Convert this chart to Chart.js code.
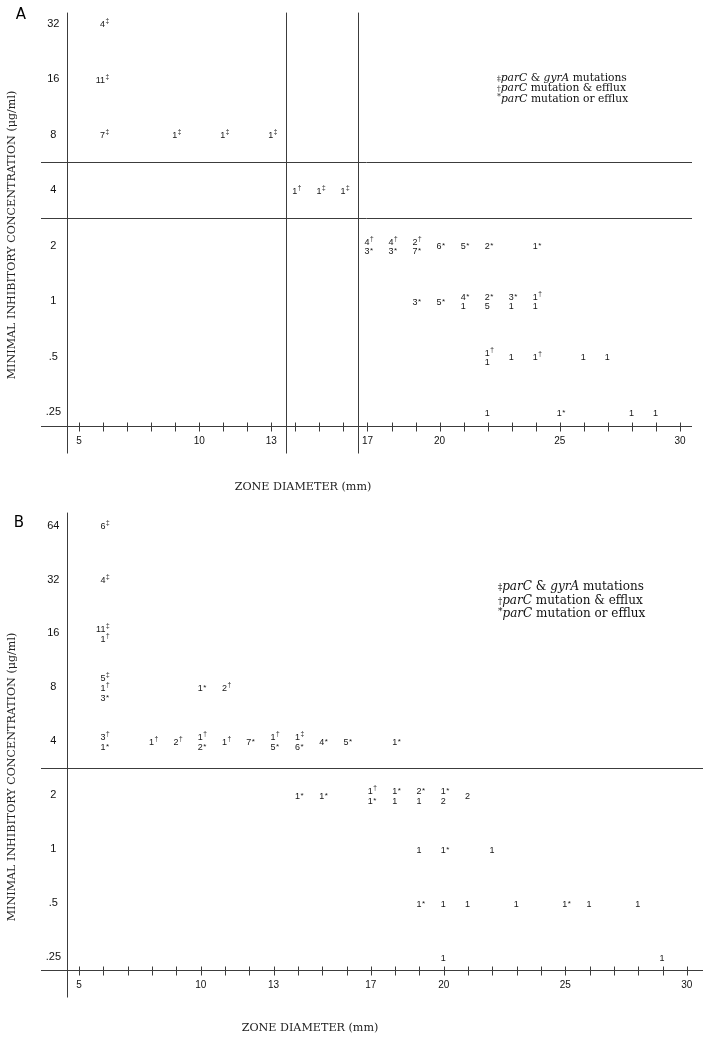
<!DOCTYPE html>
<html>
<head>
<meta charset="utf-8">
<script src="https://cdn.jsdelivr.net/npm/chart.js@4.4.1/dist/chart.umd.min.js"></script>
<style>
  body { margin: 0; background: #fff; }
  .panel { position: absolute; left: 0; }
</style>
</head>
<body>
<canvas id="chartA" class="panel" width="710" height="500" style="top:0"></canvas>
<canvas id="chartB" class="panel" width="710" height="541" style="top:500px"></canvas>
<script>
// zone diameter axis (mm)
const zoneMarks = [5, 6, 7, 8, 9, 10, 11, 12, 13, 14, 15, 16, 17, 18, 19, 20, 21, 22, 23, 24, 25, 26, 27, 28, 29, 30];
const zoneTicks = [5, 10, 13, 17, 20, 25, 30];
// MIC axis (ug/ml), drawn on a log2 scale
const micTicks = [0.25, 0.5, 1, 2, 4, 8, 16, 32, 64];
const micText = ['.25', '.5', '1', '2', '4', '8', '16', '32', '64'];

// panel A: isolate counts at each zone diameter / MIC
const aZone = [6, 6, 6, 9, 11, 13, 14, 15, 16, 17, 18, 19, 20, 21, 22, 24, 19, 20, 21, 22, 23, 24, 22, 23, 24, 26, 27, 22, 25, 28, 29];
const aMic = [32, 16, 8, 8, 8, 8, 4, 4, 4, 2, 2, 2, 2, 2, 2, 2, 1, 1, 1, 1, 1, 1, .5, .5, .5, .5, .5, .25, .25, .25, .25];
const aCount = ['4‡', '11‡', '7‡', '1‡', '1‡', '1‡', '1†', '1‡', '1‡', '4†|3*', '4†|3*', '2†|7*', '6*', '5*', '2*', '1*',
  '3*', '5*', '4*|1', '2*|5', '3*|1', '1†|1', '1†|1', '1', '1†', '1', '1', '1', '1*', '1', '1'];
const aRowCuts = [2.5, 1.5];   // log2(MIC) breakpoints
const aColCuts = [13.6, 16.6]; // zone breakpoints (mm)

// panel B
const bZone = [6, 6, 6, 6, 10, 11, 6, 8, 9, 10, 11, 12, 13, 14, 15, 16, 18, 14, 15, 17, 18, 19, 20, 21, 19, 20, 22, 19, 20, 21, 23, 25, 26, 28, 20, 29];
const bMic = [64, 32, 16, 8, 8, 8, 4, 4, 4, 4, 4, 4, 4, 4, 4, 4, 4, 2, 2, 2, 2, 2, 2, 2, 1, 1, 1, .5, .5, .5, .5, .5, .5, .5, .25, .25];
const bCount = ['6‡', '4‡', '11‡|1†', '5‡|1†|3*', '1*', '2†', '3†|1*', '1†', '2†', '1†|2*', '1†', '7*', '1†|5*', '1‡|6*', '4*', '5*', '1*',
  '1*', '1*', '1†|1*', '1*|1', '2*|1', '1*|2', '2', '1', '1*', '1', '1*', '1', '1', '1', '1*', '1', '1', '1', '1'];
const bRowCuts = [1.5];
const bColCuts = [];

const yTitle = 'MINIMAL INHIBITORY CONCENTRATION (μg/ml)';
const xTitle = 'ZONE DIAMETER (mm)';
const legendLines = [
  [['‡', 'sym'], ['parC', 'it'], [' & ', ''], ['gyrA', 'it'], [' mutations', '']],
  [['†', 'sym'], ['parC', 'it'], [' mutation & efflux', '']],
  [['*', 'star'], ['parC', 'it'], [' mutation or efflux', '']]
];

const SERIF = '"DejaVu Serif", "Liberation Serif", serif';
const SANS = '"Liberation Sans", Arial, sans-serif';

function fitSize(ctx, text, style, family, target) {
  ctx.font = style + ' 100px ' + family;
  return 100 * target / ctx.measureText(text).width;
}

function drawCount(ctx, x, y, text, gap) {
  const lines = text.split('|');
  lines.forEach((ln, i) => {
    const cy = y + (i - (lines.length - 1) / 2) * gap + 1;
    const m = ln.match(/^(\d+)(.*)$/);
    ctx.textBaseline = 'middle';
    ctx.font = '9px ' + SANS;
    ctx.textAlign = 'right';
    ctx.fillText(m[1], x + 2, cy);
    if (m[2]) {
      const star = m[2] === '*';
      ctx.font = (star ? 8 : 6.5) + 'px ' + SANS;
      ctx.textAlign = 'left';
      ctx.fillText(m[2], x + 2.5, cy - (star ? 0.5 : 3));
    }
  });
}

function drawLegend(ctx, x, y, gap, size) {
  ctx.textAlign = 'left';
  ctx.textBaseline = 'middle';
  legendLines.forEach((segs, i) => {
    let cx = x;
    const cy = y + i * gap;
    segs.forEach(([t, kind]) => {
      let dy = 0;
      if (kind === 'sym') { ctx.font = (size * 0.7) + 'px ' + SERIF; dy = 1; }
      else if (kind === 'star') { ctx.font = (size * 0.75) + 'px ' + SERIF; dy = -2; }
      else if (kind === 'it') ctx.font = 'italic ' + size + 'px ' + SERIF;
      else ctx.font = size + 'px ' + SERIF;
      ctx.fillText(t, cx, cy + dy);
      cx += ctx.measureText(t).width;
    });
  });
}

const panelPlugin = {
  id: 'panel',
  afterDraw(chart, args, o) {
    const ctx = chart.ctx;
    const xs = chart.scales.x, ys = chart.scales.y;
    const area = chart.chartArea;
    const base = Math.round(area.bottom) + 0.5;
    const left = Math.round(area.left) + 0.5;
    const right = area.right + o.rightExt;
    ctx.save();
    ctx.strokeStyle = '#3c3c3c';
    ctx.lineWidth = 1;
    const line = (x1, y1, x2, y2) => { ctx.beginPath(); ctx.moveTo(x1, y1); ctx.lineTo(x2, y2); ctx.stroke(); };

    line(o.leftExt, base, right, base);
    line(left, area.top, left, base + o.downExt);
    xs.ticks.forEach(t => {
      const px = Math.round(xs.getPixelForValue(t.value)) + 0.5;
      line(px, base - 4, px, base + 5);
    });
    o.rowCuts.forEach(v => {
      const py = Math.round(ys.getPixelForValue(v)) + 0.5;
      line(o.leftExt, py, right, py);
    });
    o.colCuts.forEach(v => {
      const px = Math.round(xs.getPixelForValue(v)) + 0.5;
      line(px, area.top, px, base + o.downExt);
    });

    // counts at each point
    ctx.fillStyle = '#151515';
    const pts = chart.getDatasetMeta(0).data;
    pts.forEach((p, i) => drawCount(ctx, p.x, p.y, o.counts[i], o.gap));

    // panel letter
    ctx.fillStyle = '#000';
    ctx.font = '15px "DejaVu Sans", sans-serif';
    ctx.textAlign = 'center';
    ctx.textBaseline = 'middle';
    ctx.fillText(o.letter, o.letterPos[0], o.letterPos[1]);

    // axis titles
    ctx.fillStyle = '#222';
    let s = fitSize(ctx, xTitle, '', SERIF, 137);
    ctx.font = s + 'px ' + SERIF;
    ctx.fillText(xTitle, o.xTitlePos[0], o.xTitlePos[1]);
    s = fitSize(ctx, yTitle, '', SERIF, 289);
    ctx.font = s + 'px ' + SERIF;
    ctx.save();
    ctx.translate(o.yTitlePos[0], o.yTitlePos[1]);
    ctx.rotate(-Math.PI / 2);
    ctx.fillText(yTitle, 0, 0);
    ctx.restore();

    // key
    ctx.fillStyle = '#111';
    drawLegend(ctx, o.legendPos[0], o.legendPos[1], o.legendGap, o.legendSize);
    ctx.restore();
  }
};

function makePanel(id, cfg) {
  const pts = cfg.zone.map((z, i) => ({ x: z, y: Math.log2(cfg.mic[i]) }));
  const ticks = micTicks.slice(0, cfg.nTicks);
  return new Chart(document.getElementById(id), {
    type: 'scatter',
    data: { datasets: [{ data: pts, pointRadius: 0, pointHoverRadius: 0 }] },
    options: {
      responsive: false,
      animation: false,
      events: [],
      layout: { padding: cfg.pad },
      scales: {
        x: {
          type: 'linear', min: 4.5, max: cfg.xMax,
          grid: { display: false, drawTicks: false },
          border: { display: false },
          afterBuildTicks: (s) => { s.ticks = zoneMarks.map(v => ({ value: v })); },
          afterFit: (s) => { s.height = 30; },
          ticks: {
            autoSkip: false, maxRotation: 0, padding: 9, color: '#111',
            font: { family: SANS, size: 10 },
            callback: (v) => zoneTicks.includes(v) ? String(v) : ''
          }
        },
        y: {
          type: 'linear', min: cfg.yMin, max: cfg.yMax,
          grid: { display: false, drawTicks: false },
          border: { display: false },
          afterBuildTicks: (s) => { s.ticks = ticks.map(m => ({ value: Math.log2(m) })); },
          afterFit: (s) => { s.width = 40; },
          ticks: {
            crossAlign: 'center', padding: 6, color: '#111',
            font: { family: SANS, size: 11 },
            callback: (v) => micText[micTicks.findIndex(m => Math.log2(m) === v)]
          }
        }
      },
      plugins: {
        legend: { display: false },
        tooltip: { enabled: false },
        panel: cfg.panel
      }
    },
    plugins: [panelPlugin]
  });
}

makePanel('chartA', {
  zone: aZone, mic: aMic, nTicks: 8,
  xMax: 30.5, yMin: -2.25, yMax: 5.2,
  pad: { left: 27, right: 18, top: 8, bottom: 44 },
  panel: {
    counts: aCount, gap: 9, rowCuts: aRowCuts, colCuts: aColCuts,
    leftExt: 41, rightExt: 0, downExt: 27,
    letter: 'A', letterPos: [21, 15],
    xTitlePos: [303, 487], yTitlePos: [12, 235],
    legendPos: [497, 78], legendGap: 10.5, legendSize: 10.7
  }
});

makePanel('chartB', {
  zone: bZone, mic: bMic, nTicks: 9,
  xMax: 30.5, yMin: -2.24, yMax: 6.24,
  pad: { left: 27, right: 11, top: 12, bottom: 41 },
  panel: {
    counts: bCount, gap: 10, rowCuts: bRowCuts, colCuts: bColCuts,
    leftExt: 41, rightExt: 4, downExt: 27,
    letter: 'B', letterPos: [19, 23],
    xTitlePos: [310, 528], yTitlePos: [12, 277],
    legendPos: [498, 87], legendGap: 13.5, legendSize: 12
  }
});
</script>
</body>
</html>
